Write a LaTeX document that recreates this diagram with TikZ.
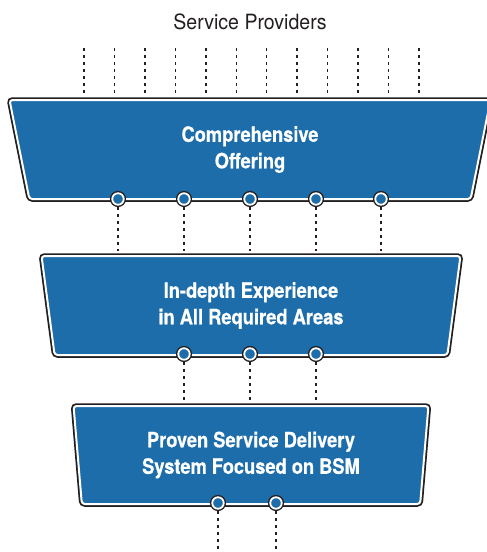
\documentclass[tikz,border=0pt]{standalone}
\usepackage{fontspec}
\setmainfont{TeX Gyre Heros}
\newfontfamily\titlefont[FakeStretch=0.93]{TeX Gyre Heros}
\newfontfamily\boxfont[FakeStretch=0.87, BoldFeatures={FakeBold=0.6}]{TeX Gyre Heros}
\usepackage{xcolor}
\usetikzlibrary{shapes.geometric, positioning}

\definecolor{boxblue}{RGB}{29,109,171}
\definecolor{ink}{RGB}{35,31,32}

\begin{document}
\begin{tikzpicture}[x=1pt, y=-1pt,
  every node/.style={inner sep=0pt, outer sep=0pt}
]

\useasboundingbox (0,0) rectangle (487,552);

% Styles
\tikzset{
  layer/.style={
    trapezium, trapezium stretches=true, trapezium angle=97.5,
    rounded corners=3pt, fill=boxblue, draw=white, line width=2pt,
    preaction={draw=ink, line width=5.5pt},
    text=white, align=center,
    font=\boxfont\bfseries\fontsize{21}{26.5}\selectfont
  },
  port/.style={
    circle, minimum size=11.5pt,
    fill=boxblue, draw=white, line width=1.8pt,
    preaction={draw=ink, line width=4.6pt}
  },
  link/.style={draw=ink, line width=1.5pt, dash pattern=on 3pt off 4pt}
}

% Title
\node[anchor=base, text=ink, font=\titlefont\fontsize{21}{25}\selectfont]
  (title) at (250,29.5) {Service Providers};

% ---- Layers ----
\node[layer, minimum width=481pt, minimum height=99pt] (offer) at (250,149.5)
  {Comprehensive\\Offering};
\node[layer, minimum width=419pt, minimum height=99pt] (depth) at (251,305.5)
  {In-depth Experience\\in All Required Areas};
\node[layer, minimum width=355pt, minimum height=98pt, trapezium angle=96.5]
  (proven) at (251,455) {Proven Service Delivery\\System Focused on BSM};

% ---- Ports ----
\node[port] (o1) at (118,199) {};
\node[port] (o2) at (184,199) {};
\node[port] (o3) at (250,199) {};
\node[port] (o4) at (316,199) {};
\node[port] (o5) at (381,199) {};

\node[port] (d1) at (184,354) {};
\node[port] (d2) at (250,354) {};
\node[port] (d3) at (316,354) {};

\node[port] (p1) at (218,503) {};
\node[port] (p2) at (276,503) {};

% ---- Links ----
\foreach \i in {0,...,11}
  \coordinate (s\i) at ({84+30.45*\i},48);
\foreach \i in {0,...,11}
  \draw[link, shorten >=5pt] (s\i) -- (s\i |- offer.north);

\foreach \p in {o1,o2,o3,o4,o5}
  \draw[link, shorten <=2.5pt, shorten >=5pt] (\p) -- (\p |- depth.north);
\foreach \p in {d1,d2,d3}
  \draw[link, shorten <=2.5pt, shorten >=5pt] (\p) -- (\p |- proven.north);

\coordinate (b1) at (218,552);
\coordinate (b2) at (276,552);
\draw[link, shorten <=2.5pt] (p1) -- (b1);
\draw[link, shorten <=2.5pt] (p2) -- (b2);

\end{tikzpicture}
\end{document}
